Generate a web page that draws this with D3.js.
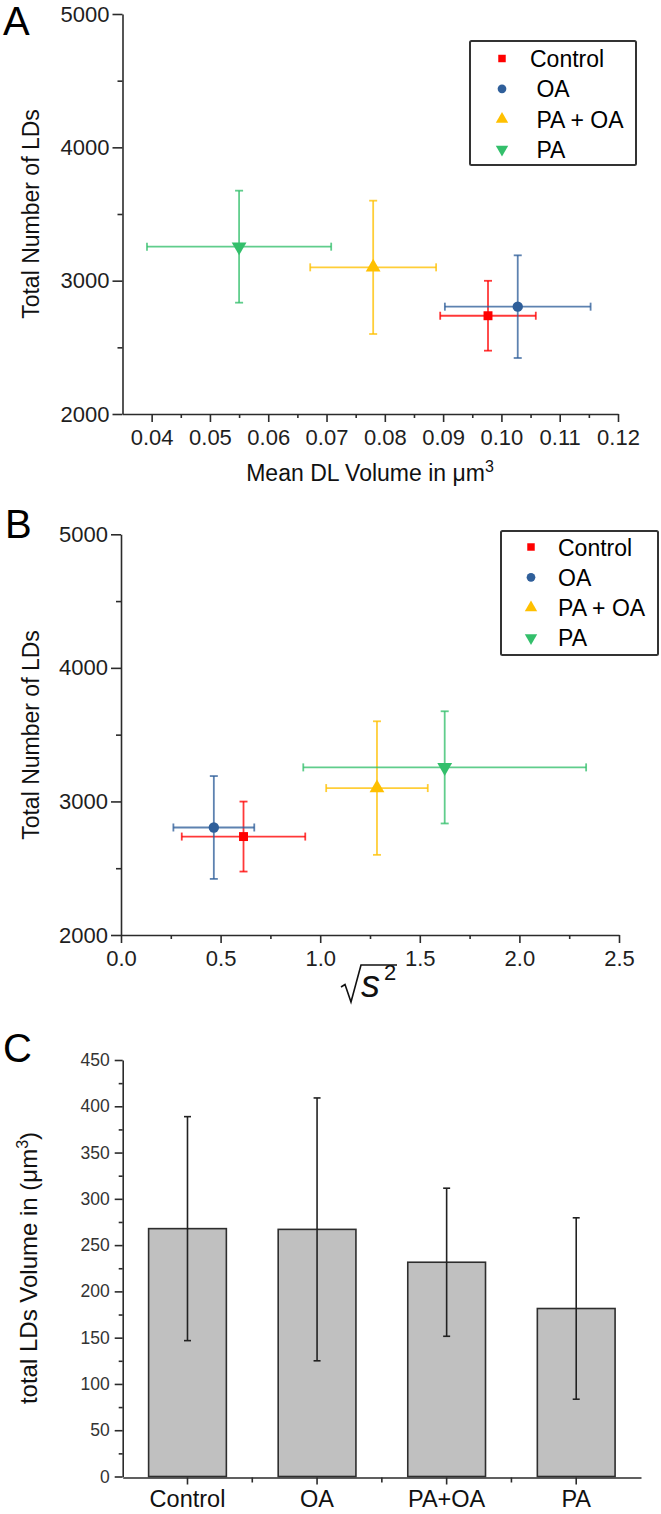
<!DOCTYPE html>
<html>
<head>
<meta charset="utf-8">
<script src="https://cdn.jsdelivr.net/npm/d3@7"></script>
<style>
  html, body { margin: 0; padding: 0; background: #fff; }
  svg { display: block; }
  text { font-family: "Liberation Sans", Arial, sans-serif; }
</style>
</head>
<body>
<div id="chart"></div>
<script>
// ---------------- DATA ----------------
const groups = ["Control", "OA", "PA + OA", "PA"];
const legendLabelsA = ["Control", " OA", " PA + OA", " PA"];
const groupColors = ["#ff0000", "#2f5f9a", "#ffc000", "#33bf6b"];

// Panel A: mean LD volume (µm³) vs total number of LDs
const meanVolume = [0.0977, 0.1028, 0.0780, 0.0550];
const meanVolumeErr = [0.0082, 0.0125, 0.0108, 0.0158];
const totalLDs = [2737, 2805, 3100, 3255];
const totalLDsErr = [262, 385, 500, 420];

// Panel B: sqrt(s^2) vs total number of LDs
const sqrtS2 = [0.615, 0.466, 1.285, 1.625];
const sqrtS2Err = [0.310, 0.203, 0.255, 0.710];

// Panel C: total LD volume
const barCategories = ["Control", "OA", "PA+OA", "PA"];
const totalVolume = [267.8, 267.0, 231.5, 181.5];
const totalVolumeErr = [121, 142, 80, 98];

// Tick values
const xTicksA = [0.04, 0.05, 0.06, 0.07, 0.08, 0.09, 0.10, 0.11, 0.12];
const xMinorA = [0.045, 0.055, 0.065, 0.075, 0.085, 0.095, 0.105, 0.115];
const yTicksAB = [2000, 3000, 4000, 5000];
const yMinorAB = [2500, 3500, 4500];
const xTicksB = [0, 0.5, 1.0, 1.5, 2.0, 2.5];
const xMinorB = [0.25, 0.75, 1.25, 1.75, 2.25];
const yTicksC = [0, 50, 100, 150, 200, 250, 300, 350, 400, 450];
const yMinorC = [25, 75, 125, 175, 225, 275, 325, 375, 425];

// ---------------- SETUP ----------------
const W = 661, H = 1514;
const svg = d3.select("#chart").append("svg").attr("width", W).attr("height", H);
svg.append("rect").attr("width", W).attr("height", H).attr("fill", "#fff");

const axisColor = "#2b2b2b";
const symbolTypes = [d3.symbolSquare, d3.symbolCircle, d3.symbolTriangle, d3.symbolTriangle];
const symbolRot = [0, 0, 0, 180];
const symbolSizes = [80, 85, 95, 95];

function styleAxis(g, fontSize) {
  g.select(".domain").attr("stroke", axisColor).attr("stroke-width", 1.6);
  g.selectAll(".tick line").attr("stroke", axisColor).attr("stroke-width", 1.6);
  g.selectAll(".tick text").attr("fill", "#1e1e1e").attr("font-size", fontSize)
    .attr("font-family", "'Liberation Sans', Arial, sans-serif");
}

function scatterPanel(opts) {
  const { x, y, xv, xe, yv, ye, xTicks, xMinor, xFmt, legend } = opts;
  const g = svg.append("g");
  const y0 = y.range()[0];
  const x0 = x.range()[0];

  // y axis
  const ya = g.append("g").attr("transform", `translate(${x0},0)`)
    .call(d3.axisLeft(y).tickValues(yTicksAB).tickSize(10).tickSizeOuter(0).tickPadding(3).tickFormat(d3.format("d")));
  styleAxis(ya, 22);
  const yam = g.append("g").attr("transform", `translate(${x0},0)`)
    .call(d3.axisLeft(y).tickValues(yMinorAB).tickSize(5).tickFormat(""));
  styleAxis(yam, 22);
  yam.select(".domain").remove();

  // x axis
  const xa = g.append("g").attr("transform", `translate(0,${y0})`)
    .call(d3.axisBottom(x).tickValues(xTicks).tickSize(8).tickSizeOuter(0).tickPadding(7).tickFormat(xFmt));
  styleAxis(xa, 22);
  const xam = g.append("g").attr("transform", `translate(0,${y0})`)
    .call(d3.axisBottom(x).tickValues(xMinor).tickSize(4).tickFormat(""));
  styleAxis(xam, 22);
  xam.select(".domain").remove();

  // error bars + points
  const cap = 4;
  groups.forEach((grp, i) => {
    const cx = x(xv[i]), cy = y(yv[i]);
    const eg = g.append("g").attr("stroke", groupColors[i]).attr("stroke-width", 1.8)
      .attr("stroke-opacity", 0.78).attr("fill", "none");
    const xl = x(xv[i] - xe[i]), xr = x(xv[i] + xe[i]);
    const yt = y(yv[i] + ye[i]), yb = y(yv[i] - ye[i]);
    eg.append("line").attr("x1", xl).attr("x2", xr).attr("y1", cy).attr("y2", cy);
    eg.append("line").attr("x1", xl).attr("x2", xl).attr("y1", cy - cap).attr("y2", cy + cap);
    eg.append("line").attr("x1", xr).attr("x2", xr).attr("y1", cy - cap).attr("y2", cy + cap);
    eg.append("line").attr("x1", cx).attr("x2", cx).attr("y1", yt).attr("y2", yb);
    eg.append("line").attr("x1", cx - cap).attr("x2", cx + cap).attr("y1", yt).attr("y2", yt);
    eg.append("line").attr("x1", cx - cap).attr("x2", cx + cap).attr("y1", yb).attr("y2", yb);
    g.append("path")
      .attr("d", d3.symbol().type(symbolTypes[i]).size(symbolSizes[i])())
      .attr("transform", `translate(${cx},${cy}) rotate(${symbolRot[i]})`)
      .attr("fill", groupColors[i]);
  });

  // legend
  const L = legend;
  g.append("rect").attr("x", L.x).attr("y", L.y).attr("width", L.w).attr("height", L.h)
    .attr("fill", "#fff").attr("stroke", "#333").attr("stroke-width", 2).attr("rx", 1.5);
  groups.forEach((grp, i) => {
    const ry = L.y + L.first + i * L.step;
    g.append("path")
      .attr("d", d3.symbol().type(symbolTypes[i]).size(symbolSizes[i] * 0.7)())
      .attr("transform", `translate(${L.sx},${ry}) rotate(${symbolRot[i]})`)
      .attr("fill", groupColors[i]);
    g.append("text").attr("x", L.tx).attr("y", ry + 8.5)
      .attr("font-size", 23).attr("fill", "#000")
      .attr("xml:space", "preserve").style("white-space", "pre")
      .text(L.labels[i]);
  });
  return g;
}

// ---------------- PANEL A ----------------
const xA = d3.scaleLinear().domain([0.035, 0.12]).range([122.5, 618]);
const yA = d3.scaleLinear().domain([2000, 5000]).range([414, 14]);
scatterPanel({
  x: xA, y: yA, xv: meanVolume, xe: meanVolumeErr, yv: totalLDs, ye: totalLDsErr,
  xTicks: xTicksA, xMinor: xMinorA, xFmt: d3.format(".2f"),
  legend: { x: 470, y: 41, w: 166, h: 124, first: 17.5, step: 30.3, sx: 502, tx: 530, labels: legendLabelsA }
});
svg.append("text").attr("x", 3).attr("y", 35).attr("font-size", 40).text("A");
svg.append("text").attr("transform", `translate(39,214) rotate(-90)`).attr("text-anchor", "middle")
  .attr("font-size", 23).attr("fill", "#111").text("Total Number of LDs");
const xlabA = svg.append("text").attr("x", 370).attr("y", 481).attr("text-anchor", "middle")
  .attr("font-size", 23).attr("fill", "#111");
xlabA.append("tspan").text("Mean DL Volume in μm");
xlabA.append("tspan").attr("font-size", 16).attr("dy", -9).text("3");

// ---------------- PANEL B ----------------
const xB = d3.scaleLinear().domain([0, 2.5]).range([121, 619]);
const yB = d3.scaleLinear().domain([2000, 5000]).range([935, 534.3]);
scatterPanel({
  x: xB, y: yB, xv: sqrtS2, xe: sqrtS2Err, yv: totalLDs, ye: totalLDsErr,
  xTicks: xTicksB, xMinor: xMinorB, xFmt: d3.format(".1f"),
  legend: { x: 501, y: 531, w: 157, h: 124, first: 16, step: 30.3, sx: 531, tx: 558, labels: groups }
});
svg.append("text").attr("x", 5).attr("y", 538).attr("font-size", 40).text("B");
svg.append("text").attr("transform", `translate(39,735) rotate(-90)`).attr("text-anchor", "middle")
  .attr("font-size", 23).attr("fill", "#111").text("Total Number of LDs");
// sqrt(s^2) label
svg.append("path").attr("d", "M341,987 L345,984.5 L351,1002 L361,965 L397,965")
  .attr("fill", "none").attr("stroke", "#111").attr("stroke-width", 1.6);
svg.append("text").attr("x", 361).attr("y", 997).attr("font-family", "'DejaVu Serif', serif")
  .attr("font-style", "italic").attr("font-size", 38).attr("fill", "#111").text("s");
svg.append("text").attr("x", 384).attr("y", 980).attr("font-family", "'DejaVu Serif', serif")
  .attr("font-size", 22).attr("fill", "#111").text("2");

// ---------------- PANEL C ----------------
const yC = d3.scaleLinear().domain([0, 450]).range([1476.5, 1060]);
const xC = d3.scaleBand().domain(barCategories).range([122.7, 641]).paddingInner(0.4).paddingOuter(0.2);
const gC = svg.append("g");
// bars
gC.selectAll("rect.bar").data(barCategories).join("rect").attr("class", "bar")
  .attr("x", d => xC(d)).attr("width", xC.bandwidth())
  .attr("y", (d, i) => yC(totalVolume[i])).attr("height", (d, i) => yC(0) - yC(totalVolume[i]))
  .attr("fill", "#c0c0c0").attr("stroke", "#2e2e2e").attr("stroke-width", 1.6);
// error bars
barCategories.forEach((c, i) => {
  const cx = xC(c) + xC.bandwidth() / 2;
  const yt = yC(totalVolume[i] + totalVolumeErr[i]), yb = yC(totalVolume[i] - totalVolumeErr[i]);
  const eg = gC.append("g").attr("stroke", "#222").attr("stroke-width", 1.6);
  eg.append("line").attr("x1", cx).attr("x2", cx).attr("y1", yt).attr("y2", yb);
  eg.append("line").attr("x1", cx - 3.5).attr("x2", cx + 3.5).attr("y1", yt).attr("y2", yt);
  eg.append("line").attr("x1", cx - 3.5).attr("x2", cx + 3.5).attr("y1", yb).attr("y2", yb);
});
// y axis
const yaC = gC.append("g").attr("transform", "translate(122.7,0)")
  .call(d3.axisLeft(yC).tickValues(yTicksC).tickSize(8).tickSizeOuter(0).tickPadding(5));
styleAxis(yaC, 17.5);
yaC.selectAll(".tick text").attr("fill", "#333");
const yaCm = gC.append("g").attr("transform", "translate(122.7,0)")
  .call(d3.axisLeft(yC).tickValues(yMinorC).tickSize(4).tickFormat(""));
styleAxis(yaCm, 17);
yaCm.select(".domain").remove();
// x axis
const xaC = gC.append("g").attr("transform", `translate(0,${yC(0) + 1})`)
  .call(d3.axisBottom(xC).tickSize(7).tickSizeOuter(0).tickPadding(6));
styleAxis(xaC, 23.5);
xaC.selectAll(".tick text").attr("fill", "#111");
xaC.selectAll("line.bound").data(barCategories.slice(1)).join("line").attr("class", "bound")
  .attr("x1", d => xC(d) + xC.bandwidth() / 2 - xC.step() / 2)
  .attr("x2", d => xC(d) + xC.bandwidth() / 2 - xC.step() / 2)
  .attr("y1", 0).attr("y2", 5).attr("stroke", axisColor).attr("stroke-width", 1.6);

svg.append("text").attr("x", 3).attr("y", 1062).attr("font-size", 40).text("C");
const ylabC = svg.append("text").attr("transform", "translate(37,1268) rotate(-90)")
  .attr("text-anchor", "middle").attr("font-size", 24).attr("fill", "#111");
ylabC.append("tspan").text("total LDs Volume in (μm");
ylabC.append("tspan").attr("font-size", 16).attr("dy", -9).text("3");
ylabC.append("tspan").attr("dy", 9).text(")");
</script>
</body>
</html>
